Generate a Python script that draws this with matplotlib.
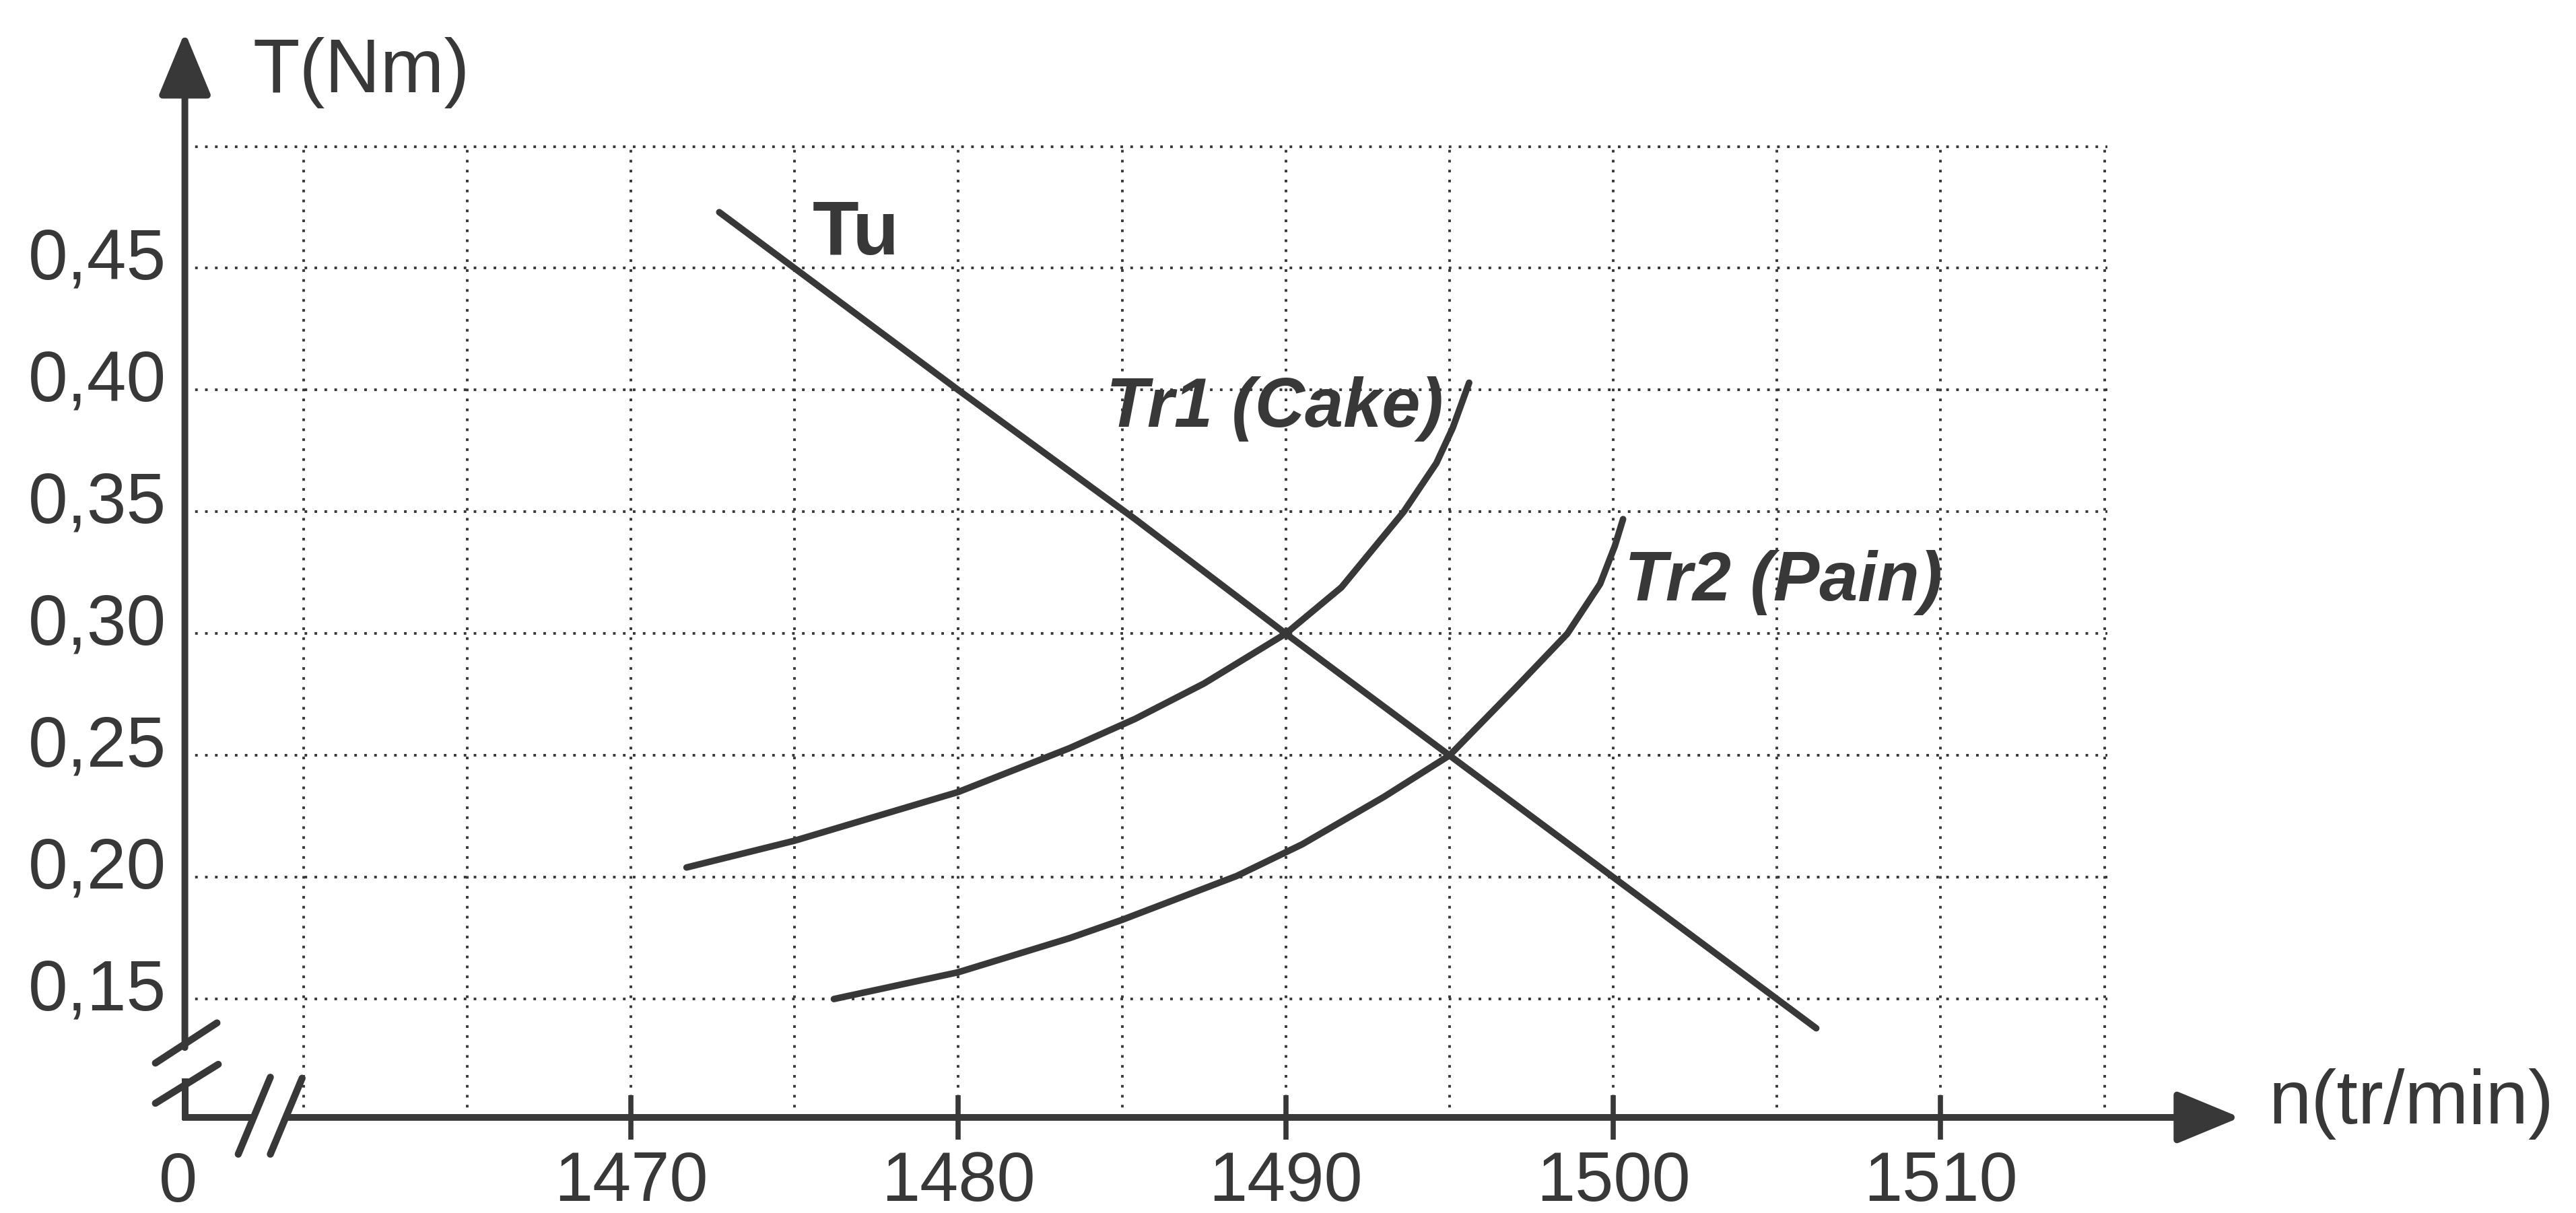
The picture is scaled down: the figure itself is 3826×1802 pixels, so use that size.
import matplotlib
matplotlib.use('Agg')
from matplotlib import pyplot as plt
from matplotlib.transforms import ScaledTranslation

plt.rcParams['font.family'] = ['Liberation Sans', 'DejaVu Sans']

# axis values
n_ticks = [1470, 1480, 1490, 1500, 1510]
n_labels = ['1470', '1480', '1490', '1500', '1510']
n_grid = [1460, 1465, 1470, 1475, 1480, 1485, 1490, 1495, 1500, 1505, 1510, 1515]
t_ticks = [0.15, 0.20, 0.25, 0.30, 0.35, 0.40, 0.45, 0.50]
t_labels = ['0,15', '0,20', '0,25', '0,30', '0,35', '0,40', '0,45', '']

# Tu : useful torque of the motor
tu_n = [1472.7, 1480, 1485.4, 1490, 1495, 1500, 1506.2]
tu_t = [0.473, 0.40, 0.347, 0.30, 0.25, 0.20, 0.138]

# Tr1 : load torque (Cake)
tr1_n = [1471.7, 1475, 1480, 1483.4, 1485.4, 1487.5, 1490, 1491.7, 1493.6, 1494.6, 1495.1, 1495.6]
tr1_t = [0.204, 0.215, 0.235, 0.253, 0.265, 0.2795, 0.30, 0.319, 0.35, 0.370, 0.3845, 0.403]

# Tr2 : load torque (Pain)
tr2_n = [1476.2, 1480, 1483.4, 1485, 1488.5, 1490.5, 1493, 1495, 1497, 1498.6, 1499.6, 1500.05, 1500.3]
tr2_t = [0.150, 0.161, 0.175, 0.1825, 0.2005, 0.2135, 0.233, 0.25, 0.2775, 0.30, 0.3204, 0.336, 0.347]

ink = '#383838'

# axis origin (broken axes) and arrow tips
x0 = 1456.38
y0 = 0.1014
x_tip = 1519.14
y_tip = 0.5469

fig = plt.figure(figsize=(38.26, 18.02), dpi=100)
ax = fig.add_axes([0.07177, 0.0788, 0.8182 - 0.07177, 0.8809 - 0.0788])
ax.set_xlim(x0, 1515.1)
ax.set_ylim(y0, 0.5008)
for s in ax.spines.values():
    s.set_visible(False)

# dotted grid
ax.set_xticks(n_ticks)
ax.set_xticklabels(n_labels)
ax.set_xticks(n_grid, minor=True)
ax.set_yticks(t_ticks)
ax.set_yticklabels(t_labels)
grid_kw = dict(color=ink, linewidth=2.8, linestyle=(0, (1.0, 2.8)))
ax.grid(axis='x', which='both', **grid_kw)
ax.grid(axis='y', which='major', **grid_kw)
ax.set_axisbelow(True)

ax.tick_params(axis='x', which='major', direction='inout', length=47, width=5.5,
               pad=12, labelsize=74, color=ink, labelcolor=ink)
ax.tick_params(axis='x', which='minor', length=0)
ax.tick_params(axis='y', which='both', length=0, pad=20, labelsize=76, labelcolor=ink)
for lab in ax.get_yticklabels():
    lab.set_transform(lab.get_transform() + ScaledTranslation(0, 16 / 72, fig.dpi_scale_trans))

# curves
line_kw = dict(color=ink, linewidth=7.0, solid_capstyle='round', solid_joinstyle='round')
ax.plot(tu_n, tu_t, **line_kw)
ax.plot(tr1_n, tr1_t, **line_kw)
ax.plot(tr2_n, tr2_t, **line_kw)

ax.text(1475.54, 0.4556, 'Tu', fontsize=81, fontweight='bold', color=ink, va='baseline')
ax.text(1484.52, 0.3849, 'Tr1 (Cake)', fontsize=74, fontweight='bold', fontstyle='italic',
        color=ink, va='baseline')
ax.text(1500.35, 0.3137, 'Tr2 (Pain)', fontsize=74, fontweight='bold', fontstyle='italic',
        color=ink, va='baseline')

# axes with arrows and break marks
axis_kw = dict(color=ink, linewidth=7.2, solid_capstyle='butt', clip_on=False)
arrow_kw = dict(arrowstyle='-|>,head_length=58,head_width=24', mutation_scale=1,
                color=ink, lw=7.2, shrinkA=0, shrinkB=0)
ax.plot([x0, x0], [y0 - 0.0012, 0.1175], **axis_kw)
ax.annotate('', xy=(x0, y_tip), xytext=(x0, 0.1301), arrowprops=arrow_kw, annotation_clip=False)
ax.plot([x0 - 0.07, 1458.4], [y0, y0], **axis_kw)
ax.annotate('', xy=(x_tip, y0), xytext=(1459.5, y0), arrowprops=arrow_kw, annotation_clip=False)

brk_kw = dict(color=ink, linewidth=7.5, solid_capstyle='round', clip_on=False)
ax.plot([1455.48, 1457.36], [0.1237, 0.1402], **brk_kw)
ax.plot([1455.48, 1457.40], [0.1072, 0.1232], **brk_kw)
ax.plot([1458.01, 1458.99], [0.0863, 0.1179], **brk_kw)
ax.plot([1458.99, 1459.96], [0.0863, 0.1175], **brk_kw)

# axis titles and origin
ax.text(1458.46, 0.5223, 'T(Nm)', fontsize=82, color=ink, va='baseline', ha='left', clip_on=False)
ax.text(1520.02, 0.0990, 'n(tr/min)', fontsize=82, color=ink, va='baseline', ha='left', clip_on=False)
ax.annotate('0', xy=(x0, y0), xytext=(-7, -35.8), textcoords='offset points',
            ha='center', va='top', fontsize=74, color=ink, annotation_clip=False)

fig.savefig('out.png', dpi=100, facecolor='white')
